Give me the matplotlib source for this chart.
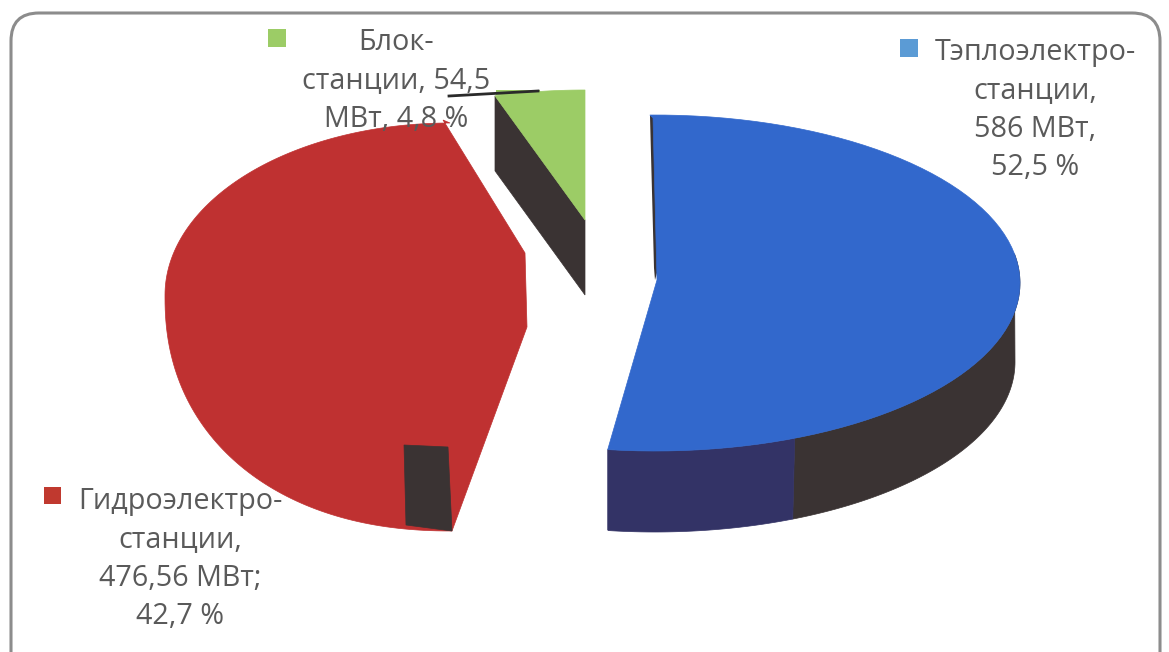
import numpy as np
import matplotlib
matplotlib.use("Agg")
import matplotlib.pyplot as plt
from matplotlib.patches import FancyBboxPatch, Polygon, Rectangle

# Data
categories = ["Тэплоэлектро-\nстанции,\n586 МВт,\n52,5 %",
              "Гидроэлектро-\nстанции,\n476,56 МВт;\n42,7 %",
              "Блок-\nстанции, 54,5\nМВт, 4,8 %"]
shares = [52.5, 42.7, 4.8]
colors = ["#3268cc", "#bf3131", "#9ccc66"]
key_colors = ["#5b9bd5", "#c0392f", "#9ccc66"]

DARK = "#3a3333"
NAVY = "#333366"
TEXT = "#5a5a5a"
plt.rcParams["font.family"] = ["Open Sans", "DejaVu Sans"]

fig = plt.figure(figsize=(11.69, 6.52), dpi=100)
ax = fig.add_axes([0, 0, 1, 1])
ax.set_xlim(0, 1169)
ax.set_ylim(652, 0)
ax.axis("off")

ax.add_patch(FancyBboxPatch((11, 13), 1149, 680, boxstyle="round,pad=0,rounding_size=28",
                            fc="white", ec="#8c8c8c", lw=2.2, zorder=0))

# Slice angles, clockwise from twelve o'clock
sweeps = np.array(shares) / 100 * 360


def arc(cx, cy, rx, ry, a0, a1, n=80, p=1.0):
    t = np.radians(np.linspace(a0, a1, n))
    c, s = np.cos(t), np.sin(t)
    return np.column_stack([cx + rx * np.sign(c) * np.abs(c) ** p,
                            cy - ry * np.sign(s) * np.abs(s) ** p])


# Blue slice
top_e = (655, 283, 365, 168)
low_e = (655, 362, 360, 170)
b_start = 90.8
b_end = b_start - sweeps[0] * 0.996
split = -67.5
rim_a = arc(*top_e, 10, split)
low_a = arc(*low_e, split, 0)
ax.add_patch(Polygon(np.vstack([rim_a, low_a]), closed=True, fc=DARK, ec=DARK, lw=0.5, zorder=2))
rim_b = arc(*top_e, split, b_end)
low_b = arc(*low_e, b_end, split)
ax.add_patch(Polygon(np.vstack([rim_b, [[rim_b[-1][0], 530]], low_b]), closed=True,
                     fc=NAVY, ec=NAVY, lw=0.5, zorder=2))
ax.add_patch(Polygon([[650, 116], [654, 116], [660, 262], [655, 280], [654, 268]], closed=True,
                     fc=DARK, ec="none", zorder=2))
ax.add_patch(Polygon(np.vstack([[[657, 280]], [[653, 118]], arc(*top_e, b_start, b_end)]),
                     closed=True, fc=colors[0], ec=colors[0], lw=0.5, zorder=3))

# Red slice: outer rim stretched to its drawn sweep, two ellipse halves
stretch = 180 / sweeps[1]
r_start = 90
r_mid = 180
r_stop = r_start + sweeps[1] * stretch
upper = arc(450, 295, 285, 172, r_start, r_mid)
lower = arc(452, 297, 287, 234, r_mid, r_stop, p=0.91)
red = np.vstack([[[443, 120]], upper, lower, [[452, 531], [527, 327], [525, 253]]])
ax.add_patch(Polygon(red, closed=True, fc=colors[1], ec=colors[1], lw=0.5, zorder=3))
ax.add_patch(Polygon([[404, 445], [448, 447], [452, 531], [406, 525]], closed=True,
                     fc=DARK, ec=DARK, lw=0.5, zorder=4))

# Green slice
gc = (585, 220, 303, 130)
g_rim = arc(*gc, 90 + sweeps[2], 90)
ax.add_patch(Polygon([g_rim[0], gc[:2], np.add(gc[:2], [0, 75]), g_rim[0] + [0, 75]], closed=True,
                     fc=DARK, ec=DARK, lw=0.5, zorder=2))
ax.add_patch(Polygon(np.vstack([[gc[:2]], g_rim]), closed=True, fc=colors[2], ec=colors[2],
                     lw=0.5, zorder=3))
ax.add_patch(Rectangle((496, 90), 44, 5, fc=colors[2], ec="none", zorder=3))
ax.plot([449, 538], [96, 91], color="#2a2a2a", lw=2, zorder=5)

# Labels and legend keys
kw = dict(ha="center", va="center", color=TEXT, fontsize=20.7, linespacing=1.43, zorder=6)
ax.text(1035, 110, categories[0], **kw)
ax.text(180, 559, categories[1], **kw)
ax.text(396, 81, categories[2], **kw)
ax.add_patch(Rectangle((900, 39), 18, 18, fc=key_colors[0], ec="none", zorder=6))
ax.add_patch(Rectangle((44, 487), 17, 17, fc=key_colors[1], ec="none", zorder=6))
ax.add_patch(Rectangle((268, 29), 18, 18, fc=key_colors[2], ec="none", zorder=6))

fig.savefig("out.png", dpi=100)
